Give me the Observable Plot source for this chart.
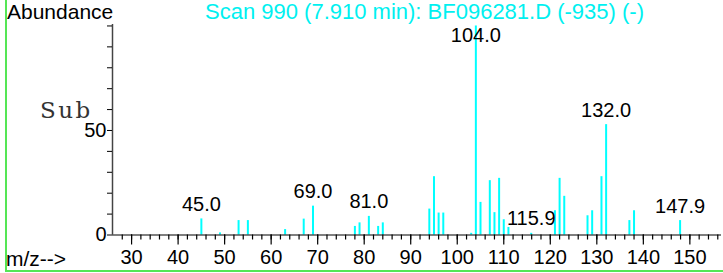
<!DOCTYPE html>
<html>
<head>
<meta charset="utf-8">
<script src="https://cdn.jsdelivr.net/npm/d3@7"></script>
<script src="https://cdn.jsdelivr.net/npm/@observablehq/plot@0.6"></script>
<style>
  html, body { margin: 0; padding: 0; background: #fff; }
  #wrap { position: relative; width: 723px; height: 273px; overflow: hidden; }
  #wrap svg { display: block; position: absolute; left: 0; top: 0; }
  .gline { position: absolute; background: #55e655; pointer-events: none; }
</style>
</head>
<body>
<div id="wrap">
  <div class="gline" style="left:5px; top:0; width:2px; height:272px;"></div>
  <div class="gline" style="left:5px; top:270px; width:718px; height:2px;"></div>
</div>
<script>
// ---- data ----
const titleText = "Scan 990 (7.910 min): BF096281.D (-935) (-)";
const yTitle = "Abundance";
const xTitle = "m/z-->";
const subText = "Sub";

const mz = [45, 49, 53, 55, 63, 67, 69, 78, 79, 81, 83, 84, 94, 95, 96, 97, 103, 104, 105, 107, 108, 109, 110, 111, 115.9, 121, 122, 123, 128, 129, 131, 132, 137, 138, 147.9];
const abundance = [7.7, 1.0, 6.9, 6.9, 2.6, 7.6, 13.8, 4.1, 5.8, 8.9, 4.1, 5.8, 12.4, 27.9, 10.5, 10.5, 0.8, 100, 15.6, 26.0, 10.7, 27.1, 7.3, 3.6, 0.8, 11.6, 27.1, 18.5, 9.2, 11.6, 27.9, 52.8, 6.9, 11.6, 6.9];

const labelMz = [45.0, 69.0, 81.0, 104.0, 115.9, 132.0, 147.9];
const labelText = ["45.0", "69.0", "81.0", "104.0", "115.9", "132.0", "147.9"];

const xDomain = [25.9, 156.8];
const yDomain = [0, 100.7];
const xMinorTicks = d3.range(28, 157, 2);
const xMajorTicks = d3.range(30, 151, 10);
const yTicks = d3.range(0, 101, 10);
const yLabelled = [0, 50];

// ---- build ----
const peaks = mz.map((m, i) => ({mz: m, ab: abundance[i]}));
const labels = labelMz.map((m, i) => {
  const p = peaks.find(d => Math.abs(d.mz - m) < 0.2);
  return {mz: m, ab: p ? p.ab : 0, text: labelText[i]};
});
const labelCap = 88.6; // top label is held below the frame top

const chart = Plot.plot({
  width: 723,
  height: 273,
  marginLeft: 112,
  marginRight: 2,
  marginTop: 24,
  marginBottom: 38.5,
  style: {fontFamily: "'Liberation Sans', Arial, sans-serif", fontSize: "20px", color: "#000", background: "transparent", overflow: "visible"},
  x: {domain: xDomain},
  y: {domain: yDomain},
  marks: [
    Plot.ruleX(peaks, {x: "mz", y1: 0, y2: "ab", stroke: "#00ffff", strokeWidth: 2}),
    Plot.ruleX([xDomain[0]], {stroke: "#444", strokeWidth: 1.5}),
    Plot.ruleY([0], {stroke: "#000", strokeWidth: 1.2}),
    Plot.axisX(xMinorTicks, {anchor: "bottom", tickSize: 5, tickFormat: () => "", label: null, strokeWidth: 1.2}),
    Plot.axisX(xMajorTicks, {anchor: "bottom", tickSize: 10, tickPadding: 5, label: null, fontSize: 20, strokeWidth: 1.2}),
    Plot.axisY(yTicks, {anchor: "left", tickSize: 5, tickPadding: 1, label: null, fontSize: 20,
      tickFormat: d => yLabelled.includes(d) ? String(d) : ""}),
    Plot.text(labels, {x: "mz", y: d => Math.min(d.ab, labelCap), text: "text", dy: -8, lineAnchor: "bottom", textAnchor: "middle", fontSize: 20, fill: "#000"})
  ]
});

document.getElementById("wrap").prepend(chart);

// annotations (titles)
const svg = d3.select(chart);
const font = "'Liberation Sans', Arial, sans-serif";
function note(x, y, txt, size, color, family, spacing) {
  svg.append("text").attr("x", x).attr("y", y)
    .style("font-family", family || font).style("font-size", size + "px")
    .style("letter-spacing", (spacing || 0) + "px")
    .style("text-anchor", "start").style("fill", color).text(txt);
}
note(7, 18.5, yTitle, 21, "#000");
note(205, 18.5, titleText, 22, "#00f0f0");
note(6, 266, xTitle, 21, "#000");
note(40, 118, subText, 23, "#333", "'DejaVu Serif', 'Liberation Serif', serif", 2.5);
</script>
</body>
</html>
